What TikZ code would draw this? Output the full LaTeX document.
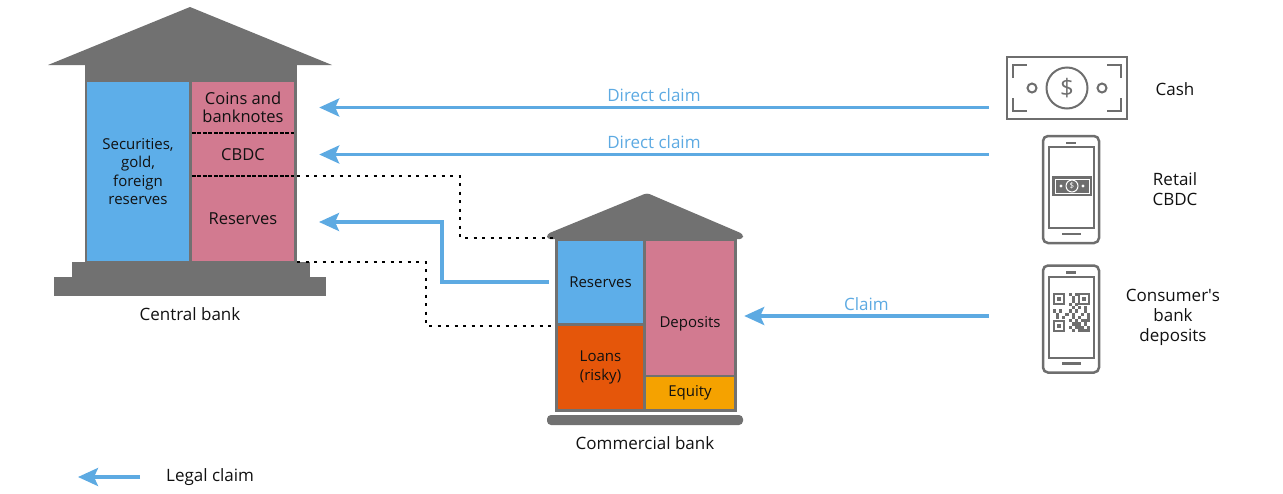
\documentclass[tikz,border=0pt]{standalone}
\usepackage{fontspec}
\setmainfont{Open Sans}
\usetikzlibrary{arrows.meta}

\definecolor{housegrey}{HTML}{717171}
\definecolor{icongrey}{HTML}{6E6E6E}
\definecolor{assetblue}{HTML}{5DAEE9}
\definecolor{liabpink}{HTML}{D27A90}
\definecolor{loanorange}{HTML}{E5560A}
\definecolor{equityorange}{HTML}{F5A200}
\definecolor{claimblue}{HTML}{5DAAE2}
\definecolor{labelblack}{HTML}{111111}

\begin{document}
\begin{tikzpicture}[
  x=1pt, y=-1pt,
  house/.style={fill=housegrey},
  item/.style={inner sep=0pt, align=center, text=labelblack,
    font=\fontsize{15}{18.5}\selectfont},
  bigitem/.style={item, font=\fontsize{16.5}{18.5}\selectfont},
  caption/.style={inner sep=0pt, align=center, text=labelblack,
    font=\fontsize{17}{20}\selectfont},
  claimtext/.style={inner sep=0pt, text=claimblue,
    font=\fontsize{17}{20}\selectfont},
  claim/.style={draw=claimblue, line width=3.5pt,
    -{Stealth[length=20pt,width=18pt,inset=4pt]}},
  link/.style={line width=2pt, dash pattern=on 3pt off 5.5pt},
  sep/.style={line width=1.5pt, dash pattern=on 4pt off 1.5pt},
  icon/.style={draw=icongrey, line width=2.5pt},
  phone/.style={icon, rounded corners=5pt, minimum width=56pt,
    minimum height=107pt, inner sep=0pt}
]
\useasboundingbox (0,0) rectangle (1283,493);

% central bank
\fill [house] (48,65) -- (190,7) -- (332,65) -- cycle;
\node (cbbody) [house, minimum width=212pt, minimum height=197pt,
  inner sep=0pt] at (191,163.5) {};
\fill [house] (72,262) rectangle (310,277);
\fill [house] (54,277) rectangle (326,296);

\node (cbsec) [item, fill=assetblue, minimum width=102pt,
  minimum height=179pt] at (138,171.5) {Securities,\\gold,\\foreign\\reserves};
\node (cbcoins) [bigitem, fill=liabpink, minimum width=102pt,
  minimum height=51pt] at (243,107.5) {Coins and\\banknotes};
\node (cbcbdc) [bigitem, fill=liabpink, minimum width=102pt,
  minimum height=43pt] at (243,154.5) {CBDC};
\node (cbres) [bigitem, fill=liabpink, minimum width=102pt,
  minimum height=85pt] at (243,218.5) {Reserves};
\draw [sep] (cbcoins.south west) -- (cbcoins.south east);
\draw [sep] (cbcbdc.south west) -- (cbcbdc.south east);

\node (cblabel) [caption] at (190,314) {Central bank};

% commercial bank
\fill [house, rounded corners=3pt] (547,239) -- (547,234) -- (647,193)
  -- (743,234) -- (743,239) -- cycle;
\node (cmbody) [house, minimum width=182pt, minimum height=174pt,
  inner sep=0pt] at (646,325) {};
\fill [house, rounded corners=4pt] (547,415) rectangle (743,425);

\node (cmres) [item, fill=assetblue, minimum width=85pt,
  minimum height=82pt] at (600.5,282) {Reserves};
\node (cmloans) [item, fill=loanorange, minimum width=85pt,
  minimum height=83pt] at (600.5,367.5) {Loans\\(risky)};
\node (cmdep) [item, fill=liabpink, minimum width=88pt,
  minimum height=134pt] at (690,308) {};
\node (cmdeptext) [item] at (690,324) {Deposits};
\node (cmeq) [item, fill=equityorange, minimum width=88pt,
  minimum height=32pt] at (690,393) {Equity};

\node (cmlabel) [caption] at (645,443) {Commercial bank};

% links between the banks
\draw [link] (cbbody.east |- cbcbdc.south) -- ++(163,0) |- (cmbody.north west);
\draw [link] (cbbody.south east) -- ++(129,0) |- (cmbody.west |- cmloans.north);

% cash
\node (cash) [icon, minimum width=120pt, minimum height=62pt,
  inner sep=0pt] at (1067,88) {};
\draw [icon, line width=2pt] (1013,78) |- (1027,65) (1107,65) -| (1121,78)
  (1121,98) |- (1107,111) (1027,111) -| (1013,98);
\draw [icon, line width=2pt] (1067,88) circle [radius=20.5];
\draw [icon, line width=2pt] (1032,88) circle [radius=4.5];
\draw [icon, line width=2pt] (1102,88) circle [radius=4.5];
\node [text=icongrey, font=\fontsize{24}{24}\selectfont] at (1067,88) {\$};
\node (cashlabel) [caption] at (1175,89) {Cash};

% phones
\foreach \y/\name in {189.5/retail, 319/deposit} {
  \node (\name) [phone] at (1071,\y) {};
  \draw [icon, line width=2pt] (1049,\y-42.5) rectangle (1094,\y+38.5);
  \draw [icon] (1066,\y-46.5) -- (1076,\y-46.5);
  \draw [icon] (1062,\y+44.5) -- (1081,\y+44.5);
}

% banknote on screen
\fill [icongrey] (1052,176) rectangle (1092,196);
\draw [white, line width=0.8pt] (1055,179) rectangle (1089,193);
\draw [white, line width=1pt] (1072,186) circle [radius=6];
\fill [white] (1061,186) circle [radius=1.6] (1083,186) circle [radius=1.6];
\node [text=white, font=\fontsize{8}{8}\selectfont] at (1072,186) {\$};

% qr code on screen
\foreach \qx/\qy in {1053/293, 1078/293, 1053/320} {
  \draw [icongrey, line width=1.6pt] (\qx+0.8,\qy+0.8) rectangle (\qx+11.2,\qy+11.2);
  \fill [icongrey] (\qx+4,\qy+4) rectangle (\qx+8,\qy+8);
}
\foreach \cx/\cy in {5/0, 6/1, 7/0, 5/3, 6/2, 7/3, 6/4, 8/4, 10/4, 0/5, 1/6,
  2/5, 3/7, 4/6, 5/5, 6/6, 7/5, 8/7, 9/6, 10/5, 11/6, 1/7, 6/7, 11/7, 5/8,
  6/9, 7/8, 8/9, 9/8, 10/9, 11/8, 5/10, 7/10, 8/11, 9/10, 10/11, 11/10, 6/11,
  8/10, 10/8, 9/11, 11/11, 7/9} {
  \fill [icongrey] (1053+3.1*\cx,293+3.25*\cy) rectangle ++(3.1,3.25);
}

\node (retaillabel) [caption] at (1175,189) {Retail\\CBDC};
\node (depositlabel) [caption] at (1173,317)
  {Consumer\textquotesingle s\\bank\\deposits};

% claims
\draw [claim] ([xshift=-17pt]cash.west |- cbcoins.east) -- ([xshift=25pt]cbcoins.east)
  node [claimtext, pos=0.5, above=4pt] {Direct claim};
\draw [claim] ([xshift=-53pt]retail.west |- cbcbdc.east) -- ([xshift=25pt]cbcbdc.east)
  node [claimtext, pos=0.5, above=4pt] {Direct claim};
\draw [claim] ([xshift=-53pt,yshift=3pt]deposit.west)
  -- ([xshift=10pt,yshift=3pt]cmdep.east |- deposit.west)
  node [claimtext, pos=0.5, above=4pt] {Claim};
\coordinate (resin) at (319,222);
\draw [claim] ([xshift=-9pt]cmres.west) -- ++(-107,0) |- (resin);

% legend
\node (legend) [caption, anchor=west] at (166,477) {Legal claim};
\draw [claim] ([xshift=-26pt]legend.west) -- ++(-62,0);

\end{tikzpicture}
\end{document}
